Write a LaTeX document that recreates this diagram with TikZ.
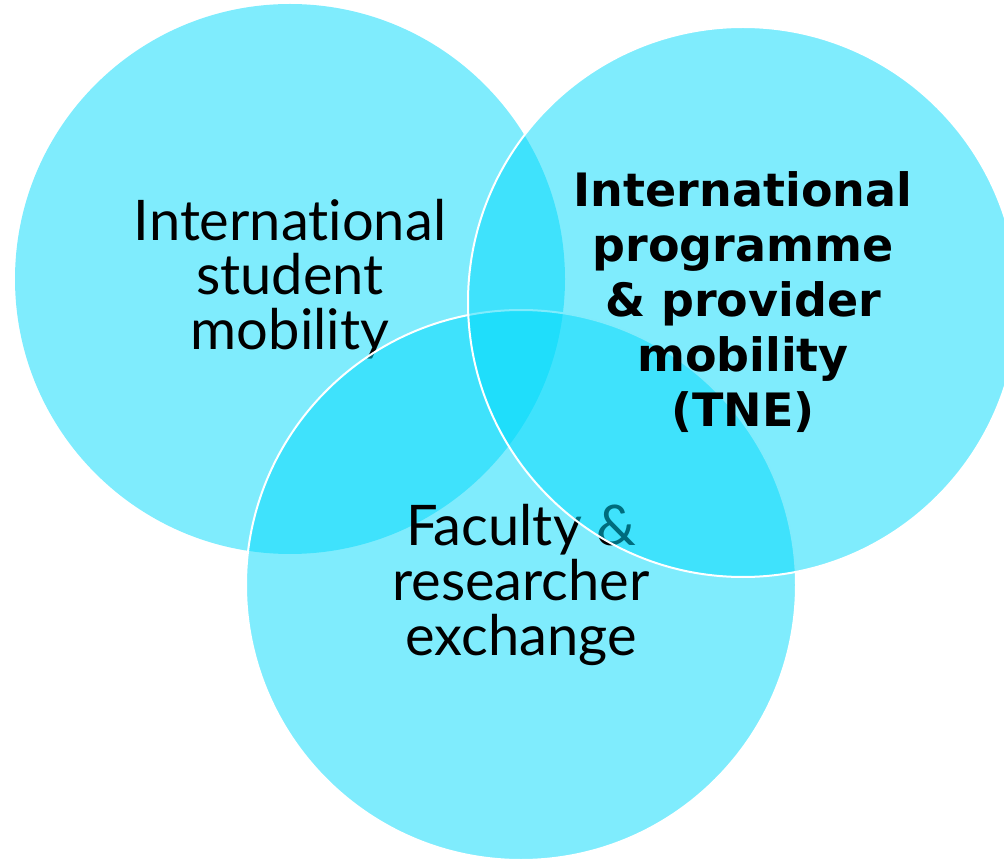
\documentclass[tikz,border=0pt]{standalone}
\usepackage{fontspec}
\setmainfont{Lato}[Ligatures=NoCommon]
\newfontfamily\headfont{DejaVu Sans}
\definecolor{venncyan}{RGB}{0,217,251}

\begin{document}
\begin{tikzpicture}[x=0.75pt, y=-0.75pt]

    % 定义公共变量
    \def\circlesize{412.5pt}   % 圆的直径
    \def\rimwidth{1.5pt}       % 白色边线宽度

    \tikzset{
      venn/.style={circle, minimum size=\circlesize, inner sep=0pt,
                   fill=venncyan, fill opacity=0.5, text opacity=1, align=center},
      rim/.style={draw=white, line width=\rimwidth},
      plaintext/.style={font=\fontsize{42}{41}\selectfont},
      boldtext/.style={font=\headfont\bfseries\fontsize{34.5}{41.3}\selectfont}
    }

    % 画布大小
    \useasboundingbox (0,0) rectangle (1004,859);

    % 左圆:学生流动
    \node[venn, plaintext] (student) at (290,279) {International\\student\\mobility};

    % 下圆:教师与研究人员交流
    \node[venn, rim, plaintext] (faculty) at (521,585) {Faculty \&\\researcher\\exchange};

    % 右圆:项目与机构流动
    \node[venn, rim, boldtext] (tne) at (743,302) {International\\programme\\\& provider\\mobility\\(TNE)};

\end{tikzpicture}
\end{document}
